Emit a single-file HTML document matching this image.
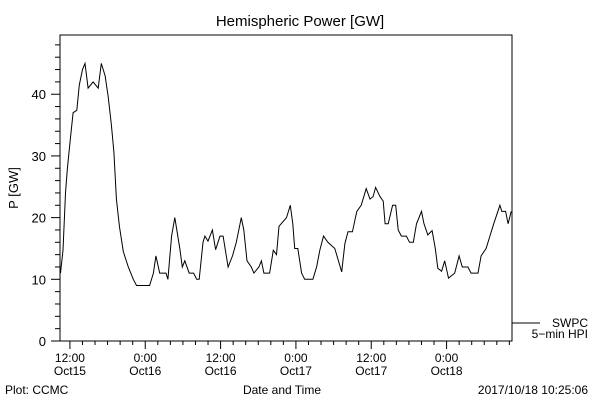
<!DOCTYPE html>
<html><head><meta charset="utf-8"><style>
html,body{margin:0;padding:0;background:#fff}
svg{display:block;font-family:"Liberation Sans",sans-serif}
</style></head><body>
<svg id="chart" width="600" height="400" viewBox="0 0 600 400">
<rect width="600" height="400" fill="#fff"/>
<text x="300" y="26" text-anchor="middle" font-size="15">Hemispheric Power [GW]</text>
<rect x="60" y="35" width="452" height="306" fill="none" stroke="#000" stroke-width="1"/>
<g id="yaxis"></g>
<g id="xaxis"></g>
<text transform="translate(18,188) rotate(-90)" text-anchor="middle" font-size="13">P [GW]</text>
<text x="282" y="394" text-anchor="middle" font-size="12">Date and Time</text>
<text x="5" y="394" font-size="12">Plot: CCMC</text>
<text x="588" y="394" text-anchor="end" font-size="12">2017/10/18 10:25:06</text>
<g>
<line x1="512" y1="323" x2="540" y2="323" stroke="#000"/>
<text x="588" y="327" text-anchor="end" font-size="12">SWPC</text>
<text x="588" y="338" text-anchor="end" font-size="12">5−min HPI</text>
</g>
<polyline id="series" fill="none" stroke="#000" stroke-width="1"/>
</svg>
<script>
// hours since 2017-10-15 00:00
const times = [10.5,10.9,11.3,11.6,12.1,12.5,13.1,13.5,14.0,14.4,14.9,15.7,16.5,17.0,17.6,18.1,18.6,19.0,19.4,19.9,20.5,21.3,22.1,22.6,24.7,25.3,25.7,26.3,27.3,27.6,28.2,28.7,29.1,29.5,29.9,30.3,31.0,31.7,32.2,32.6,33.2,33.5,34.0,34.7,35.2,35.9,36.4,37.2,37.9,38.5,39.3,39.7,40.2,40.9,41.3,42.1,42.5,42.9,43.8,44.4,44.9,45.3,46.5,47.1,47.5,47.8,48.3,48.9,49.4,50.7,51.3,51.8,52.4,53.1,54.2,55.3,55.8,56.3,57.0,57.7,58.4,59.2,59.8,60.3,60.7,61.4,61.9,62.2,62.7,63.4,63.9,64.3,64.8,65.6,66.1,66.7,67.2,68.0,68.4,69.0,69.7,70.2,70.6,71.2,71.7,72.3,73.3,74.0,74.5,75.4,75.9,77.0,77.5,78.3,78.9,79.5,80.5,80.8,81.4,81.8,82.3];
const power = [11,14.7,24,28,33,37,37.4,41.5,44,45,41,42,41,45,43,39.6,35,30.6,23,18.5,14.5,12,10,9,9,11,13.8,11,11,10,17,20,17.5,15,12,13,11,11,10,10,16,17,16.2,18,14.8,17,17,12,13.8,16,20,18,13,12,11,12,13,11,11,14.7,14,18.6,20,22,19,15,15,11,10,10,12,14.7,17,16,15,11.2,15.8,17.7,17.7,21,22,24.7,23,23.4,24.9,23.4,22.7,19,19,22,22,18,17,17,16,16,19,21,19,17.2,17.9,15,11.8,11.3,13,10.2,11,13.8,12,12,11,11,13.8,15,17,19,22,21,21,19,21];
const yTicks = [0,10,20,30,40];
const xTickHours = [12,24,36,48,60,72];
const xTickTimes = ["12:00","0:00","12:00","0:00","12:00","0:00"];
const xTickDays = ["Oct15","Oct16","Oct16","Oct17","Oct17","Oct18"];

const NS="http://www.w3.org/2000/svg";
const X0=60,X1=512,Y0=341,Y1=35;
const T0=10.42,T1=82.42,V0=0,V1=49.6;
function xs(t){return X0+(t-T0)/(T1-T0)*(X1-X0);}
function ys(v){return Y0-(v-V0)/(V1-V0)*(Y0-Y1);}
function mk(tag,attrs,parent){const e=document.createElementNS(NS,tag);for(const k in attrs)e.setAttribute(k,attrs[k]);parent.appendChild(e);return e;}

const ya=document.getElementById('yaxis');
for(let v=0;v<=48;v+=2){
  const major=v%10===0;
  const l=mk('line',{x1:X0-(major?9:5),x2:X0,y1:ys(v),y2:ys(v),stroke:'#000'},ya);
  
  
}
yTicks.forEach(v=>{
  const t=mk('text',{x:46,y:ys(v)+5,'text-anchor':'end','font-size':13},ya);
  t.textContent=v;
  
  
});
const xa=document.getElementById('xaxis');
for(let h=12;h<=T1;h+=2){
  const major=h%12===0;
  const l=mk('line',{x1:xs(h),x2:xs(h),y1:Y0,y2:Y0+(major?8:4),stroke:'#000'},xa);
  
  
}
xTickHours.forEach((h,i)=>{
  const a=mk('text',{x:xs(h),y:362,'text-anchor':'middle','font-size':12},xa);
  a.textContent=xTickTimes[i];
  
  
  const b=mk('text',{x:xs(h),y:375,'text-anchor':'middle','font-size':12},xa);
  b.textContent=xTickDays[i];
  
  
});
document.getElementById('series').setAttribute('points',times.map((t,i)=>xs(t).toFixed(1)+','+ys(power[i]).toFixed(1)).join(' '));
</script>
</body></html>
